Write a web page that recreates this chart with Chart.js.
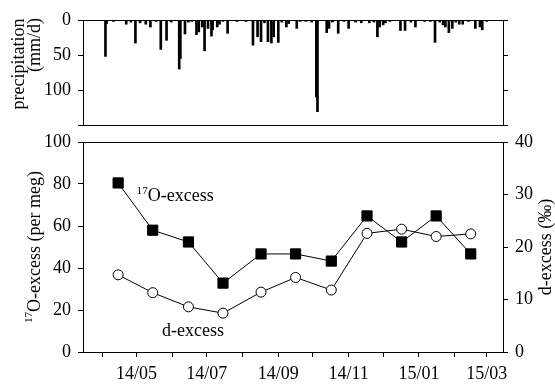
<!DOCTYPE html>
<html>
<head>
<meta charset="utf-8">
<script src="https://cdn.jsdelivr.net/npm/chart.js@4.4.1/dist/chart.umd.min.js"></script>
<style>
  body { margin: 0; background: #fff; }
  #wrap { position: relative; width: 555px; height: 385px; }
  canvas { position: absolute; left: 0; }
  #precipChart { top: 0; }
  #isoChart { top: 122px; }
</style>
</head>
<body>
<div id="wrap">
  <canvas id="precipChart" width="555" height="143"></canvas>
  <canvas id="isoChart" width="555" height="263"></canvas>
</div>
<script>
// x axis is counted in days from this date
const startDate = '2014-04-01';

const monthTicks = ['2014-04-01', '2014-05-01', '2014-06-01', '2014-07-01', '2014-08-01', '2014-09-01',
  '2014-10-01', '2014-11-01', '2014-12-01', '2015-01-01', '2015-02-01', '2015-03-01'];
const monthLabels = ['', '14/05', '', '14/07', '', '14/09', '', '14/11', '', '15/01', '', '15/03'];

// daily precipitation (mm/d)
const precipDates = [
  '2014-04-04', '2014-04-05', '2014-04-11', '2014-04-16', '2014-04-22', '2014-04-26', '2014-04-30',
  '2014-05-04', '2014-05-09', '2014-05-13', '2014-05-18', '2014-05-22', '2014-05-27', '2014-05-31',
  '2014-06-07', '2014-06-08', '2014-06-12', '2014-06-15', '2014-06-18', '2014-06-22', '2014-06-24',
  '2014-06-27', '2014-06-29', '2014-07-02', '2014-07-05', '2014-07-06', '2014-07-10', '2014-07-12',
  '2014-07-15', '2014-07-19', '2014-07-22', '2014-07-27', '2014-08-04', '2014-08-10', '2014-08-14',
  '2014-08-17', '2014-08-20', '2014-08-23', '2014-08-26', '2014-08-28', '2014-09-01', '2014-09-04',
  '2014-09-08', '2014-09-10', '2014-09-17', '2014-09-20', '2014-09-25', '2014-09-30', '2014-10-04',
  '2014-10-05', '2014-10-13', '2014-10-15', '2014-10-18', '2014-10-23', '2014-10-28', '2014-11-01',
  '2014-11-07', '2014-11-12', '2014-11-19', '2014-11-23', '2014-11-26', '2014-11-28', '2014-12-01',
  '2014-12-03', '2014-12-07', '2014-12-16', '2014-12-20', '2014-12-25', '2014-12-29', '2015-01-06',
  '2015-01-11', '2015-01-15', '2015-01-19', '2015-01-22', '2015-01-24', '2015-01-27', '2015-01-30',
  '2015-02-02', '2015-02-05', '2015-02-08', '2015-02-13', '2015-02-19', '2015-02-23', '2015-02-25',
  '2015-03-01'];
const precipValues = [
  52, 5, 2, 1, 6, 3, 33,
  4, 6, 10, 2, 42, 29, 3,
  70, 55, 20, 3, 2, 21, 17,
  10, 44, 12, 23, 14, 10, 6,
  2, 19, 1, 2, 2, 36, 24,
  31, 4, 31, 33, 24, 32, 3,
  10, 5, 12, 2, 2, 3, 110,
  131, 18, 12, 3, 19, 2, 12,
  3, 4, 4, 3, 24, 10, 7,
  4, 2, 15, 15, 3, 10, 2,
  2, 32, 3, 7, 10, 18, 12,
  3, 6, 6, 2, 12, 10, 14,
  2];
const precipTicks = [0, 50, 100, 150];

// monthly samples
const sampleDates = ['2014-04-15', '2014-05-15', '2014-06-15', '2014-07-15', '2014-08-17', '2014-09-16',
  '2014-10-17', '2014-11-17', '2014-12-17', '2015-01-16', '2015-02-15'];
const o17Excess = [80.5, 58, 52.4, 32.8, 46.7, 46.7, 43.3, 64.8, 52.4, 64.8, 46.7];   // per meg
const dExcess = [14.7, 11.3, 8.6, 7.4, 11.4, 14.2, 11.8, 22.6, 23.4, 22.0, 22.5];      // permil

const serif = '"Liberation Serif", "Times New Roman", serif';
Chart.defaults.font.family = serif;
Chart.defaults.font.size = 18;
Chart.defaults.color = '#000';

const dayOf = d => (Date.parse(d) - Date.parse(startDate)) / 864e5;
const xMin = -16.5;
const xMax = 348;
const monthDays = monthTicks.map(dayOf);

// draws text with an optional superscript in front, centred or starting at x
function supText(ctx, sup, main, x, y, size, align) {
  ctx.textBaseline = 'middle';
  ctx.textAlign = 'left';
  ctx.font = (size * 0.62) + 'px ' + serif;
  const supW = sup ? ctx.measureText(sup).width : 0;
  ctx.font = size + 'px ' + serif;
  const mainW = ctx.measureText(main).width;
  let x0 = align === 'center' ? x - (supW + mainW) / 2 : x;
  if (sup) {
    ctx.font = (size * 0.62) + 'px ' + serif;
    ctx.fillText(sup, x0, y - size * 0.32);
  }
  ctx.font = size + 'px ' + serif;
  ctx.fillText(main, x0 + supW, y);
}

function rotated(ctx, x, y, fn) {
  ctx.save();
  ctx.translate(x, y);
  ctx.rotate(-Math.PI / 2);
  fn();
  ctx.restore();
}

const precipTitle = {
  id: 'precipTitle',
  afterDraw(chart) {
    const ctx = chart.ctx;
    ctx.save();
    ctx.fillStyle = '#000';
    rotated(ctx, 19, 64, () => supText(ctx, '', 'precipitation', 0, 0, 18, 'center'));
    rotated(ctx, 35, 45, () => supText(ctx, '', '(mm/d)', 0, 0, 18, 'center'));
    ctx.restore();
  }
};

const isoLabels = {
  id: 'isoLabels',
  afterDraw(chart) {
    const ctx = chart.ctx;
    const {x, y} = chart.scales;
    const area = chart.chartArea;
    const midY = (area.top + area.bottom) / 2;
    ctx.save();
    ctx.fillStyle = '#000';
    supText(ctx, '17', 'O-excess', x.getPixelForValue(dayOf('2014-05-01')), y.getPixelForValue(74), 18, 'left');
    supText(ctx, '', 'd-excess', x.getPixelForValue(dayOf('2014-06-19')), y.getPixelForValue(10), 18, 'center');
    rotated(ctx, 35, midY, () => supText(ctx, '17', 'O-excess (per meg)', 0, 0, 18, 'center'));
    rotated(ctx, 546, midY, () => supText(ctx, '', 'd-excess (\u2030)', 0, 0, 18, 'center'));
    ctx.restore();
  }
};

const frameAxis = {
  type: 'linear',
  position: 'top',
  ticks: { display: false },
  grid: { display: false },
  border: { color: '#000', width: 1 },
  afterFit: s => { s.height = 0; }
};

new Chart(document.getElementById('precipChart'), {
  type: 'bar',
  data: {
    datasets: [{
      data: precipDates.map((d, i) => ({ x: dayOf(d), y: precipValues[i] })),
      backgroundColor: '#000',
      barThickness: 2
    }]
  },
  options: {
    responsive: false,
    animation: false,
    devicePixelRatio: 1,
    layout: { padding: { top: 20, left: 0, right: 0, bottom: 0 } },
    plugins: { legend: { display: false }, tooltip: { enabled: false } },
    scales: {
      x: {
        type: 'linear', min: xMin, max: xMax, offset: false,
        ticks: { display: false },
        grid: { display: false },
        border: { color: '#000' },
        afterFit: s => { s.height = 18; }
      },
      xTop: frameAxis,
      y: {
        reverse: true, min: 0, max: 150,
        afterBuildTicks: s => { s.ticks = precipTicks.map(v => ({ value: v })); },
        ticks: { callback: v => (v === 150 ? '' : v), padding: 7 },
        grid: { drawOnChartArea: false, tickLength: 5, color: '#000' },
        border: { color: '#000' },
        afterFit: s => { s.width = 83; }
      },
      yRight: {
        position: 'right', reverse: true, min: 0, max: 150,
        afterBuildTicks: s => { s.ticks = precipTicks.map(v => ({ value: v })); },
        ticks: { callback: () => '' },
        grid: { drawOnChartArea: false, tickLength: 5, color: '#000' },
        border: { color: '#000' },
        afterFit: s => { s.width = 52; }
      }
    }
  },
  plugins: [precipTitle]
});

const sampleDays = sampleDates.map(dayOf);

new Chart(document.getElementById('isoChart'), {
  type: 'line',
  data: {
    datasets: [{
      label: '17O-excess',
      data: sampleDays.map((d, i) => ({ x: d, y: o17Excess[i] })),
      yAxisID: 'y',
      borderColor: '#000',
      borderWidth: 1,
      pointStyle: 'rect',
      pointRadius: 7.2,
      pointBackgroundColor: '#000',
      pointBorderColor: '#000',
      pointBorderWidth: 1
    }, {
      label: 'd-excess',
      data: sampleDays.map((d, i) => ({ x: d, y: dExcess[i] })),
      yAxisID: 'y1',
      borderColor: '#000',
      borderWidth: 1,
      pointStyle: 'circle',
      pointRadius: 5,
      pointBackgroundColor: '#fff',
      pointBorderColor: '#000',
      pointBorderWidth: 1
    }]
  },
  options: {
    responsive: false,
    animation: false,
    devicePixelRatio: 1,
    layout: { padding: { top: 20, left: 0, right: 0, bottom: 0 } },
    plugins: { legend: { display: false }, tooltip: { enabled: false } },
    scales: {
      x: {
        type: 'linear', min: xMin, max: xMax,
        afterBuildTicks: s => { s.ticks = monthDays.map(v => ({ value: v })); },
        ticks: { callback: (v, i) => monthLabels[i], autoSkip: false, maxRotation: 0, padding: 6 },
        grid: { drawOnChartArea: false, tickLength: 5, color: '#000' },
        border: { color: '#000' },
        afterFit: s => { s.height = 33; }
      },
      xTop: frameAxis,
      y: {
        min: 0, max: 100,
        ticks: { stepSize: 20, padding: 7 },
        grid: { drawOnChartArea: false, tickLength: 5, color: '#000' },
        border: { color: '#000' },
        afterFit: s => { s.width = 83; }
      },
      y1: {
        position: 'right', min: 0, max: 40,
        ticks: { stepSize: 10, padding: 7 },
        grid: { drawOnChartArea: false, tickLength: 5, color: '#000' },
        border: { color: '#000' },
        afterFit: s => { s.width = 52; }
      }
    }
  },
  plugins: [isoLabels]
});
</script>
</body>
</html>
